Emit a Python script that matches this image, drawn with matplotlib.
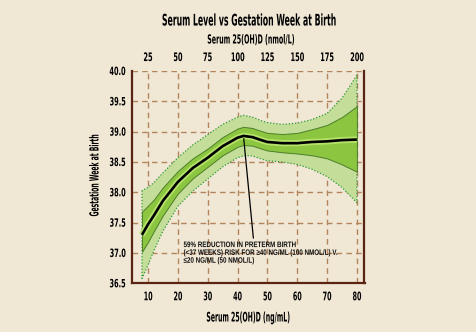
import matplotlib

matplotlib.use("Agg")
import matplotlib.pyplot as plt
from matplotlib import font_manager, patheffects
from matplotlib.transforms import Affine2D

# values (serum in ng/mL, gestation in weeks)
serum_ng = [8, 10, 12, 15, 20, 25, 30, 35, 40, 42, 45, 48, 50, 55, 60, 65, 70, 75, 80]
week_fit = [37.30, 37.47, 37.62, 37.86, 38.17, 38.40, 38.57, 38.76, 38.90, 38.93, 38.91,
            38.86, 38.83, 38.81, 38.81, 38.83, 38.84, 38.86, 38.87]
inner_hi = [37.68, 37.78, 37.88, 38.08, 38.35, 38.56, 38.72, 38.91, 39.05, 39.08, 39.06,
            39.01, 38.98, 38.96, 38.98, 39.04, 39.11, 39.24, 39.42]
inner_lo = [37.02, 37.18, 37.36, 37.62, 37.98, 38.23, 38.42, 38.61, 38.75, 38.78, 38.77,
            38.72, 38.69, 38.66, 38.64, 38.61, 38.56, 38.46, 38.34]
outer_hi = [38.03, 38.08, 38.16, 38.32, 38.57, 38.78, 38.95, 39.12, 39.24, 39.27, 39.24,
            39.18, 39.15, 39.12, 39.14, 39.20, 39.30, 39.55, 39.93]
outer_lo = [36.58, 36.80, 37.04, 37.36, 37.77, 38.02, 38.22, 38.42, 38.57, 38.60, 38.60,
            38.55, 38.52, 38.50, 38.46, 38.38, 38.26, 38.08, 37.83]

ng_ticks = [10, 20, 30, 40, 50, 60, 70, 80]
nmol_ticks = [25, 50, 75, 100, 125, 150, 175, 200]
week_ticks = [36.5, 37.0, 37.5, 38.0, 38.5, 39.0, 39.5, 40.0]

NOTE = ("59% REDUCTION IN PRETERM BIRTH\n"
        "(<37 WEEKS) RISK FOR \u226540 NG/ML (100 NMOL/L) V.\n"
        "\u226420 NG/ML (50 NMOL/L)")

BG = "#f0e7d5"
BROWN = "#5b2412"
GRID = "#b3855c"


class Squeeze(patheffects.AbstractPathEffect):
    """narrows the glyphs of a text line, the reference uses a very condensed face"""

    def __init__(self, sx, anchor="center"):
        super().__init__()
        self.sx = sx
        self.anchor = anchor

    def draw_path(self, renderer, gc, tpath, affine, rgbFace=None):
        ext = tpath.get_extents()
        if self.anchor == "left":
            cx = ext.x0
        elif self.anchor == "right":
            cx = ext.x1
        else:
            cx = (ext.x0 + ext.x1) / 2
        squeeze = Affine2D().translate(-cx, 0).scale(self.sx, 1).translate(cx, 0)
        renderer.draw_path(gc, tpath, squeeze + affine, rgbFace)


def lab_font(size):
    return font_manager.FontProperties(family="DejaVu Sans", weight="bold",
                                       stretch="condensed", size=size)


fig = plt.figure(figsize=(4.77, 3.32), dpi=100, facecolor=BG)
ax = fig.add_axes([132 / 477, 1 - 283.3 / 332, 232.5 / 477, 212.3 / 332])
ax.set_facecolor(BG)

ax.fill_between(serum_ng, outer_lo, outer_hi, facecolor="#c4dd98",
                edgecolor="#2f9a3c", linestyle=(0, (1, 1.5)), linewidth=0.9, zorder=2)
ax.fill_between(serum_ng, inner_lo, inner_hi, facecolor="#8cc540",
                edgecolor="#4b7f2a", linewidth=0.7, zorder=3)
ax.plot(serum_ng, week_fit, color="#b5e36a", linewidth=4.5, solid_capstyle="butt", zorder=4)
ax.plot(serum_ng, week_fit, color="black", linewidth=1.9, solid_capstyle="butt", zorder=5)

ax.set_xlim(4.65, 82.55)
ax.set_ylim(36.5, 40.0)
ax.set_xticks(ng_ticks)
ax.set_yticks(week_ticks)
ax.set_yticklabels([f"{v:.1f}" for v in week_ticks])
ax.grid(True, color=GRID, linestyle=(0, (4, 3)), linewidth=1, zorder=0.5)
ax.set_axisbelow(True)

ax.spines["top"].set_visible(False)
for side in ("left", "right", "bottom"):
    ax.spines[side].set_color(BROWN)
    ax.spines[side].set_linewidth(1.6)
    ax.spines[side].set_zorder(6)

ax.tick_params(axis="x", length=0, pad=5)
ax.tick_params(axis="y", length=0, pad=4.5)
for lab in ax.get_xticklabels():
    lab.set_fontproperties(lab_font(8.5))
    lab.set_path_effects([Squeeze(0.6)])
for lab in ax.get_yticklabels():
    lab.set_fontproperties(lab_font(8.2))
    lab.set_path_effects([Squeeze(0.64, "right")])

top = ax.secondary_xaxis("top", functions=(lambda x: x * 2.5, lambda x: x / 2.5))
top.set_xticks(nmol_ticks)
top.spines["top"].set_visible(False)
top.tick_params(length=0, pad=5)
for lab in top.get_xticklabels():
    lab.set_fontproperties(lab_font(8.5))
    lab.set_path_effects([Squeeze(0.62)])

# label pointing at the peak of the fitted curve
i_peak = week_fit.index(max(week_fit))
ax.annotate("", xy=(serum_ng[i_peak], week_fit[i_peak]), xytext=(45.4, 37.2),
            arrowprops=dict(arrowstyle="-", color="black", lw=0.9), zorder=7)
ax.text(21.9, 37.18, NOTE, fontsize=5.7, va="top", ha="left", linespacing=1.15,
        family=["Liberation Sans", "DejaVu Sans"], weight="bold", color="#111111",
        zorder=7, path_effects=[Squeeze(0.79, "left")])

fig.text(250 / 477, 1 - 21 / 332, "Serum Level vs Gestation Week at Birth",
         ha="center", va="center", fontproperties=lab_font(11.5),
         path_effects=[Squeeze(0.54)])
fig.text(251 / 477, 1 - 40 / 332, "Serum 25(OH)D (nmol/L)",
         ha="center", va="center", fontproperties=lab_font(9),
         path_effects=[Squeeze(0.56)])
fig.text(249 / 477, 1 - 318 / 332, "Serum 25(OH)D (ng/mL)",
         ha="center", va="center", fontproperties=lab_font(9.5),
         path_effects=[Squeeze(0.52)])
fig.text(95 / 477, 1 - 175 / 332, "Gestation Week at Birth", rotation=90,
         ha="center", va="center", fontproperties=lab_font(9),
         path_effects=[Squeeze(0.54)])

fig.savefig("out.png", dpi=100, facecolor=BG)
